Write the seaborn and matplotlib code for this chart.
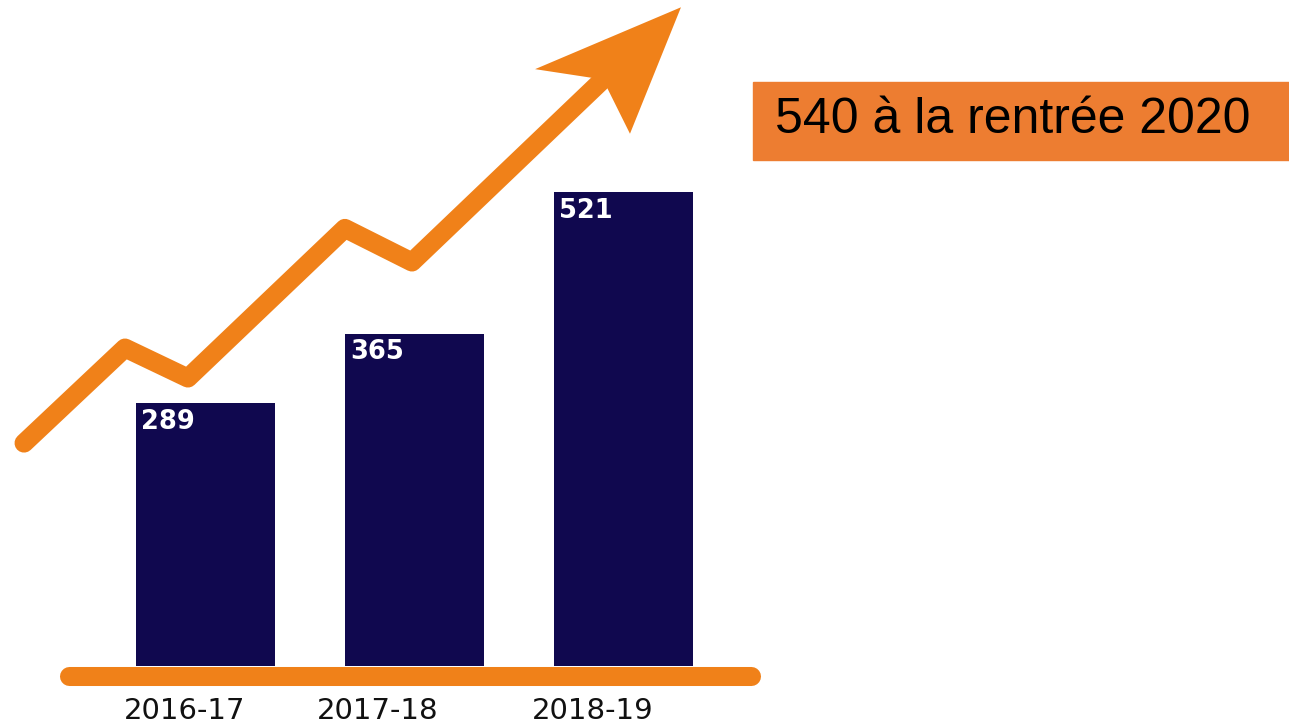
import matplotlib.pyplot as plt
import seaborn as sns
from matplotlib.patches import Rectangle

# Data
years = ['2016-17', '2017-18', '2018-19']
students = [289, 365, 521]
headline = '540 à la rentrée 2020'

# decorative trend arrow (in data units: x = bar index, y = value)
trend_x = [-0.868, -0.385, -0.084, 0.667, 0.988, 1.902]
trend_y = [245, 349.5, 316.5, 481, 444, 644.6]
head_x = [2.275, 1.577, 1.902, 2.031]
head_y = [724, 656, 644.6, 585]

# year labels sit a bit left of the bar centres in the original
label_shift = [-0.10, -0.175, -0.148]

bar_color = '#10084F'
orange = '#F08119'
box_color = '#ED7D31'

sns.set_theme(style='white')
plt.rcParams['font.family'] = ['DejaVu Sans']

fig = plt.figure(figsize=(12.89, 7.28), dpi=100)
ax = fig.add_axes([0, 0, 1, 1])

sns.barplot(x=years, y=students, color=bar_color, saturation=1, width=0.665,
            linewidth=0, ax=ax)

# orange base line
ax.plot([-0.653, 2.61], [-11, -11], color=orange, lw=13.7, solid_capstyle='round', zorder=1)

# trend arrow
ax.plot(trend_x, trend_y, color=orange, lw=13.7, solid_capstyle='round',
        solid_joinstyle='round', zorder=3)
ax.fill(head_x, head_y, color=orange, lw=0, zorder=3)

# value labels inside bars
for i, v in enumerate(students):
    ax.annotate(str(v), xy=(i - 0.665 / 2, v), xytext=(3.5, -4), textcoords='offset points',
                ha='left', va='top', color='white', fontsize=18.5, fontweight='heavy', zorder=4)

# category labels
for i, y in enumerate(years):
    ax.text(i + label_shift[i], -49.5, y, ha='center', va='center', fontsize=21, color='#111111')

ax.set_xlim(-0.983, 5.184)
ax.set_ylim(-68.15, 732)
ax.axis('off')

# headline box
fig.patches.append(Rectangle((753 / 1289, 1 - 160 / 728), (1289 - 753) / 1289, 78 / 728,
                             transform=fig.transFigure, color=box_color, zorder=0))
fig.text(775 / 1289, 1 - 120 / 728, headline, ha='left', va='center', fontsize=36,
         color='black', family='Liberation Sans')

plt.savefig('out.png', dpi=100)
